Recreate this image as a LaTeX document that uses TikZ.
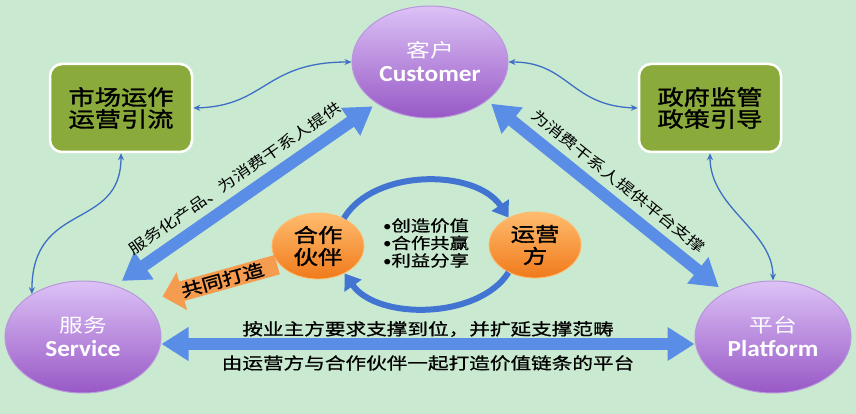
\documentclass[tikz,border=0pt]{standalone}
\usepackage{fontspec}
\usetikzlibrary{arrows.meta, shapes.geometric}
\newfontfamily\cjk{Noto Sans CJK SC}[FakeStretch=1.25]
\newfontfamily\cjkm{Noto Sans CJK SC}[FakeStretch=1.25, FakeBold=0.8]
\newfontfamily\cjkb{Noto Sans CJK SC}[FakeStretch=1.25, FakeBold=1.6]
\newfontfamily\latin{Carlito}[FakeStretch=1.1]

\definecolor{bgmint}{HTML}{C9EAD0}
\definecolor{purpletop}{HTML}{DCC2F6}
\definecolor{purplebot}{HTML}{9858C6}
\definecolor{purpleedge}{HTML}{B996DC}
\definecolor{boxgreen}{HTML}{8BAA3C}
\definecolor{orangetop}{HTML}{FFBC6E}
\definecolor{orangebot}{HTML}{F07A1C}
\definecolor{teamorange}{HTML}{F59C50}
\definecolor{bigblue}{HTML}{5A8DE6}
\definecolor{cycleblue}{HTML}{4274D2}
\definecolor{thinblue}{HTML}{3E6FC4}

\tikzset{
  party/.style={ellipse, minimum width=156pt, minimum height=112pt, inner sep=0pt,
    top color=purpletop, bottom color=purplebot, draw=purpleedge, line width=1pt,
    text=white, align=center, font=\cjk\fontsize{19}{24}\selectfont},
  sidebox/.style={rectangle, rounded corners=12pt, fill=boxgreen, draw=white, line width=2.5pt,
    minimum width=142pt, minimum height=88pt, align=center, font=\cjkb\fontsize{21}{22}\selectfont},
  partner/.style={ellipse, minimum width=92pt, minimum height=66pt, inner sep=0pt,
    top color=orangetop, bottom color=orangebot, draw=orangetop, line width=0.8pt,
    align=center, font=\cjkb\fontsize{19.5}{22}\selectfont},
  valtext/.style={align=left, font=\cjkm\fontsize{15.5}{17.5}\selectfont},
  bigarrow/.style={draw=bigblue, line width=12pt,
    {Triangle[width=32pt,length=27pt]}-{Triangle[width=32pt,length=27pt]}},
  cyclearrow/.style={draw=cycleblue, line width=6pt, -{Triangle[width=20pt,length=15pt]}},
  thinarrow/.style={draw=thinblue, line width=1.3pt,
    {Stealth[length=7pt,width=6pt]}-{Stealth[length=7pt,width=6pt]}},
  teamarrow/.style={draw=teamorange, line width=20pt, -{Triangle[width=38pt,length=20pt]}},
  arrowtext/.style={font=\cjk\fontsize{14.5}{16}\selectfont, inner sep=2pt},
  flattext/.style={font=\cjkm\fontsize{16.5}{18}\selectfont, inner sep=0pt}
}

\begin{document}
\begin{tikzpicture}[x=1pt, y=-1pt]
    \useasboundingbox (0,0) rectangle (856,414);
    \fill[bgmint] (0,0) rectangle (856,414);

    % Parties
    \node[party] (cust) at (430,62) {客户\\{\latin\bfseries\fontsize{23}{24}\selectfont Customer}};
    \node[party] (svc) at (83,337) {服务\\{\latin\bfseries\fontsize{23}{24}\selectfont Service}};
    \node[party] (plt) at (773,337) {平台\\{\latin\bfseries\fontsize{23}{24}\selectfont Platform}};

    % Side boxes
    \node[sidebox] (mkt) at (121,108) {市场运作\\运营引流};
    \node[sidebox] (gov) at (710,108) {政府监管\\政策引导};

    % Partners and values
    \node[partner] (ptn) at (318,246) {合作\\伙伴};
    \node[partner] (opr) at (535,245) {运营\\方};
    \node[valtext] (vals) at (426,243) {{\latin •}创造价值\\{\latin •}合作共赢\\{\latin •}利益分享};

    % Cycle
    \draw[cyclearrow] (ptn.47) .. controls +(30,-50) and +(-33,-49) .. (opr.134);
    \draw[cyclearrow] (opr.226) .. controls +(-30,47) and +(33,47) .. (ptn.314);

    % Thin links
    \draw[thinarrow] (mkt.east) .. controls +(73,-2) and +(-87,0) .. (cust.west);
    \draw[thinarrow] (cust.east) .. controls +(60,0) and +(-67,-2) .. (gov.west);
    \draw[thinarrow] (mkt.south) .. controls +(0,78) and +(0,-94) .. (svc.140);
    \draw[thinarrow] (gov.south) .. controls +(0,55) and +(0,-50) .. (plt.north);

    % Main arrows
    \draw[bigarrow, shorten <=8pt, shorten >=5pt] (svc.58) -- (cust.218)
        node[midway, sloped, above=5pt, arrowtext] {服务化产品、为消费干系人提供};
    \draw[bigarrow, shorten <=5pt, shorten >=8pt] (cust.326) -- (plt.137)
        node[midway, sloped, above=5pt, arrowtext] {为消费干系人提供平台支撑};
    \draw[bigarrow] ([yshift=-7pt]svc.east) -- ([yshift=-7pt]plt.west)
        node[midway, yshift=15pt, flattext] {按业主方要求支撑到位，并扩延支撑范畴}
        node[midway, yshift=-19pt, flattext] {由运营方与合作伙伴一起打造价值链条的平台};

    % Co-build arrow
    \draw[teamarrow, shorten <=2pt, shorten >=19pt] (ptn.205) -- (svc.30)
        node[pos=0.42, sloped, font=\cjkb\fontsize{17}{18}\selectfont] {共同打造};
\end{tikzpicture}
\end{document}
